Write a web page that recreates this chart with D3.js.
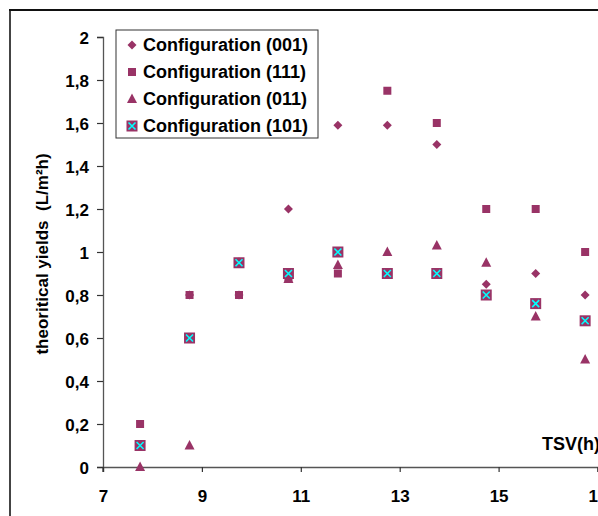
<!DOCTYPE html>
<html><head><meta charset="utf-8">
<script src="https://cdn.jsdelivr.net/npm/d3@7"></script>
<style>
body{margin:0;background:#fff;}
svg{display:block;font-family:"Liberation Sans",Arial,sans-serif;font-weight:bold;}
</style></head>
<body>
<svg id="c" width="598" height="516"></svg>
<script>
const xValues = [7.75, 8.75, 9.75, 10.75, 11.75, 12.75, 13.75, 14.75, 15.75, 16.75];
const config001 = [0.1, 0.8, 0.8, 1.2, 1.59, 1.59, 1.5, 0.85, 0.9, 0.8];
const config111 = [0.2, 0.8, 0.8, 0.88, 0.9, 1.75, 1.6, 1.2, 1.2, 1.0];
const config011 = [0.0, 0.1, 0.95, 0.875, 0.94, 1.0, 1.03, 0.95, 0.7, 0.5];
const config101 = [0.1, 0.6, 0.95, 0.9, 1.0, 0.9, 0.9, 0.8, 0.76, 0.68];
const seriesNames = ["Configuration (001)", "Configuration (111)", "Configuration (011)", "Configuration (101)"];
const xTicks = [7, 9, 11, 13, 15, 17];
const yTicks = [0, 0.2, 0.4, 0.6, 0.8, 1, 1.2, 1.4, 1.6, 1.8, 2];

const svg = d3.select("#c");
const x = d3.scaleLinear().domain([7, 17]).range([103, 597.5]);
const y = d3.scaleLinear().domain([0, 2]).range([467, 37]);
const maroon = "#993366", cyan = "#00FFFF";

// outer chart border
svg.append("line").attr("x1", 10).attr("x2", 10).attr("y1", 9).attr("y2", 516).attr("stroke", "#444").attr("stroke-width", 2);
svg.append("line").attr("x1", 9).attr("x2", 598).attr("y1", 10).attr("y2", 10).attr("stroke", "#111").attr("stroke-width", 2);

// axes
const fmt = d => String(d).replace(".", ",");
const yAxis = svg.append("g").attr("transform", `translate(${x(7)},0)`)
  .call(d3.axisLeft(y).tickValues(yTicks).tickFormat(fmt).tickSize(6).tickPadding(8));
const xAxis = svg.append("g").attr("transform", `translate(0,${y(0)})`)
  .call(d3.axisBottom(x).tickValues(xTicks).tickFormat(d3.format("d")).tickSize(5).tickPadding(18));
[yAxis, xAxis].forEach(g => {
  g.select(".domain").attr("stroke", "#555").attr("stroke-width", 1.3);
  g.selectAll(".tick line").attr("stroke", "#333").attr("stroke-width", 1.2);
  g.selectAll("text").attr("fill", "#000").style("font-size", "17px").style("font-weight", "bold")
    .style("font-family", '"Liberation Sans",Arial,sans-serif');
});
yAxis.selectAll("text").attr("dy", "0.36em");
// extend y axis slightly below x axis
svg.append("line").attr("x1", x(7)).attr("x2", x(7)).attr("y1", y(0)).attr("y2", y(0) + 5).attr("stroke", "#333").attr("stroke-width", 1.2);

// axis titles
svg.append("text").attr("transform", `translate(48,${254}) rotate(-90)`)
  .attr("text-anchor", "middle").style("font-size", "17px").attr("xml:space","preserve")
  .text("theoritical yields  (L/m²h)");
svg.append("text").attr("x", 542).attr("y", 450).style("font-size", "18px").text("TSV(h)");

// marker drawers
function diamond(g, cx, cy) {
  g.append("path").attr("d", `M${cx},${cy-4.5}L${cx+4.5},${cy}L${cx},${cy+4.5}L${cx-4.5},${cy}Z`).attr("fill", maroon);
}
function square(g, cx, cy) {
  g.append("rect").attr("x", cx-4).attr("y", cy-4).attr("width", 8).attr("height", 8).attr("fill", maroon);
}
function triangle(g, cx, cy) {
  g.append("path").attr("d", `M${cx},${cy-5.5}L${cx+5},${cy+4}L${cx-5},${cy+4}Z`).attr("fill", maroon);
}
function xsquare(g, cx, cy) {
  g.append("rect").attr("x", cx-5.5).attr("y", cy-5.5).attr("width", 11).attr("height", 11).attr("fill", maroon);
  g.append("path").attr("d", `M${cx-3.5},${cy-3.5}L${cx+3.5},${cy+3.5}M${cx+3.5},${cy-3.5}L${cx-3.5},${cy+3.5}`)
    .attr("stroke", cyan).attr("stroke-width", 1.6);
}
const drawers = [diamond, square, triangle, xsquare];
const allSeries = [config001, config111, config011, config101];

const pts = svg.append("g");
allSeries.forEach((vals, si) => {
  const g = pts.append("g");
  vals.forEach((v, i) => drawers[si](g, x(xValues[i]), y(v)));
});

// legend
const leg = svg.append("g");
leg.append("rect").attr("x", 116).attr("y", 30).attr("width", 202).attr("height", 108)
  .attr("fill", "#fff").attr("stroke", "#333").attr("stroke-width", 1);
seriesNames.forEach((name, i) => {
  const cy = 45 + i * 27;
  drawers[i](leg, 132, cy);
  leg.append("text").attr("x", 143).attr("y", cy).attr("dy", "0.36em").style("font-size", "18px").text(name);
});
</script>
</body></html>
